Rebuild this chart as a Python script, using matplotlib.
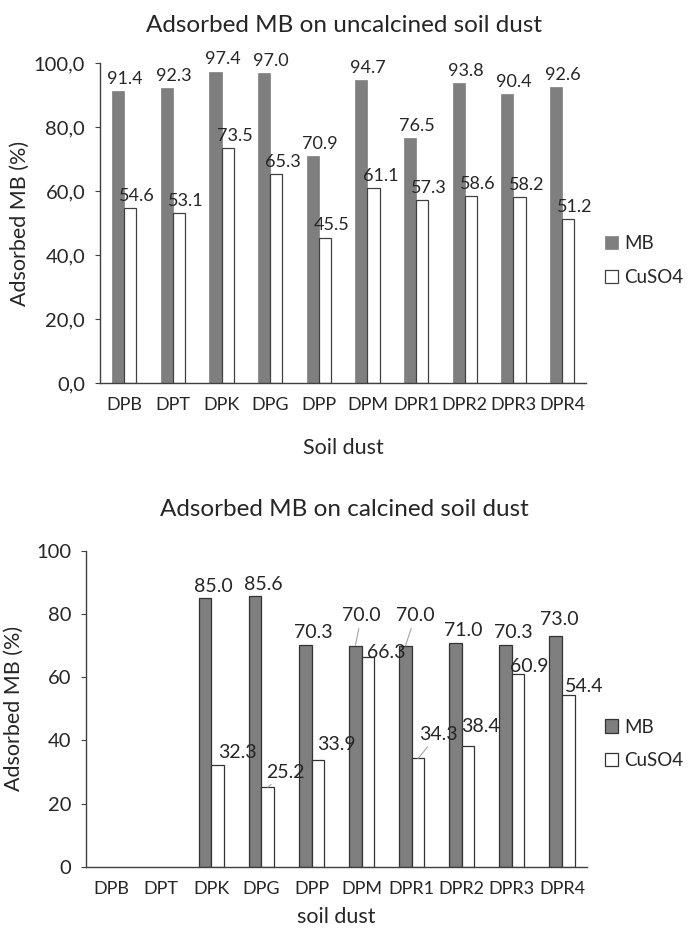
import matplotlib
matplotlib.use("Agg")
import matplotlib.pyplot as plt
import matplotlib.ticker as ticker
import numpy as np

plt.rcParams['font.family'] = ['Lato', 'DejaVu Sans']

# data
soils = ["DPB", "DPT", "DPK", "DPG", "DPP", "DPM", "DPR1", "DPR2", "DPR3", "DPR4"]
mb_uncalc = [91.4, 92.3, 97.4, 97.0, 70.9, 94.7, 76.5, 93.8, 90.4, 92.6]
cu_uncalc = [54.6, 53.1, 73.5, 65.3, 45.5, 61.1, 57.3, 58.6, 58.2, 51.2]
mb_calc = [np.nan, np.nan, 85.0, 85.6, 70.3, 70.0, 70.0, 71.0, 70.3, 73.0]
cu_calc = [np.nan, np.nan, 32.3, 25.2, 33.9, 66.3, 34.3, 38.4, 60.9, 54.4]

# label offsets for the calcined chart (pixels, from the top centre of each bar)
mb_off = [None, None, (8, 12), (8, 12), (8, 12), (6, 30), (10, 30), (8, 12), (8, 12), (4, 17)]
cu_off = [None, None, (20, 12), (18, 15), (19, 15), (18, 5), (20, 24), (12, 19), (11, 8), (16, 9)]
mb_lead = [False, False, False, False, False, True, True, False, False, False]
cu_lead = [False, False, False, True, False, False, True, False, False, False]

GREY = "#7f7f7f"
TXT = "#262626"
PX = 0.72  # px -> points at 100 dpi

fig = plt.figure(figsize=(6.89, 9.30), dpi=100)
ax1 = fig.add_axes([0.145, 0.588, 0.706, 0.344])
ax2 = fig.add_axes([0.125, 0.068, 0.727, 0.3395])

x = np.arange(len(soils))
w = 0.25


def style(ax, ylab, xlab, fmt):
    ax.set_xlim(-0.5, len(soils) - 0.5)
    ax.set_ylim(0, 100)
    ax.set_yticks(np.arange(0, 101, 20))
    ax.yaxis.set_major_formatter(ticker.FuncFormatter(fmt))
    ax.set_xticks(x)
    ax.set_xticklabels(soils)
    for s in ["top", "right"]:
        ax.spines[s].set_visible(False)
    for s in ["left", "bottom"]:
        ax.spines[s].set_color("#404040")
        ax.spines[s].set_linewidth(1.0)
    ax.tick_params(axis="x", length=0, pad=10, labelsize=13, labelcolor=TXT)
    ax.tick_params(axis="y", length=3.6, pad=7, labelsize=14.5, labelcolor=TXT,
                   color="#404040")
    ax.set_ylabel(ylab, fontsize=15.5, color=TXT)
    ax.set_xlabel(xlab, fontsize=15.5, color=TXT)


# top chart: uncalcined
ax1.bar(x - w / 2, mb_uncalc, w, color=GREY, edgecolor=GREY, linewidth=0.5, label="MB")
ax1.bar(x + w / 2, cu_uncalc, w, color="white", edgecolor="#404040", linewidth=0.9, label="CuSO4")
for i in range(len(soils)):
    ax1.annotate(f"{mb_uncalc[i]:.1f}", (x[i] - w / 2, mb_uncalc[i]), xytext=(5, 3),
                 textcoords="offset points", ha="center", va="bottom", fontsize=13, color=TXT)
    ax1.annotate(f"{cu_uncalc[i]:.1f}", (x[i] + w / 2, cu_uncalc[i]), xytext=(5, 3),
                 textcoords="offset points", ha="center", va="bottom", fontsize=13, color=TXT)
style(ax1, "Adsorbed MB (%)", "Soil dust", lambda v, p: f"{v:.1f}".replace(".", ","))
ax1.yaxis.set_label_coords(-0.145, 0.5)
ax1.xaxis.set_label_coords(0.5, -0.17)
ax1.legend(loc="center left", bbox_to_anchor=(0.865, 0.72), bbox_transform=fig.transFigure,
           frameon=False, fontsize=13.5, handlelength=0.7, handleheight=0.7,
           handletextpad=0.3, labelspacing=0.9, borderpad=0, labelcolor=TXT)

# bottom chart: calcined
ax2.bar(x - w / 2, mb_calc, w, color=GREY, edgecolor="#333333", linewidth=0.9, label="MB")
ax2.bar(x + w / 2, cu_calc, w, color="white", edgecolor="#333333", linewidth=0.9, label="CuSO4")
lead = dict(arrowstyle="-", color="#a6a6a6", lw=0.8, shrinkA=1, shrinkB=0)
for i in range(len(soils)):
    if mb_off[i] is not None:
        dx, dy = mb_off[i]
        ax2.annotate(f"{mb_calc[i]:.1f}", (x[i] - w / 2, mb_calc[i]),
                     xytext=(dx * PX, dy * PX), textcoords="offset points",
                     ha="center", va="center", fontsize=14, color=TXT,
                     arrowprops=lead if mb_lead[i] else None)
    if cu_off[i] is not None:
        dx, dy = cu_off[i]
        ax2.annotate(f"{cu_calc[i]:.1f}", (x[i] + w / 2, cu_calc[i]),
                     xytext=(dx * PX, dy * PX), textcoords="offset points",
                     ha="center", va="center", fontsize=14, color=TXT,
                     arrowprops=lead if cu_lead[i] else None)
style(ax2, "Adsorbed MB (%)", "soil dust", lambda v, p: f"{v:.0f}")
ax2.yaxis.set_label_coords(-0.125, 0.5)
ax2.xaxis.set_label_coords(0.5, -0.128)
ax2.legend(loc="center left", bbox_to_anchor=(0.865, 0.2), bbox_transform=fig.transFigure,
           frameon=False, fontsize=13.5, handlelength=0.7, handleheight=0.7,
           handletextpad=0.3, labelspacing=0.9, borderpad=0, labelcolor=TXT)

fig.text(0.5, 1 - 25 / 930, "Adsorbed MB on uncalcined soil dust", ha="center", va="center",
         fontsize=17.5, color=TXT)
fig.text(0.5, 1 - 510 / 930, "Adsorbed MB on calcined soil dust", ha="center", va="center",
         fontsize=17.5, color=TXT)

fig.savefig("out.png", dpi=100)
